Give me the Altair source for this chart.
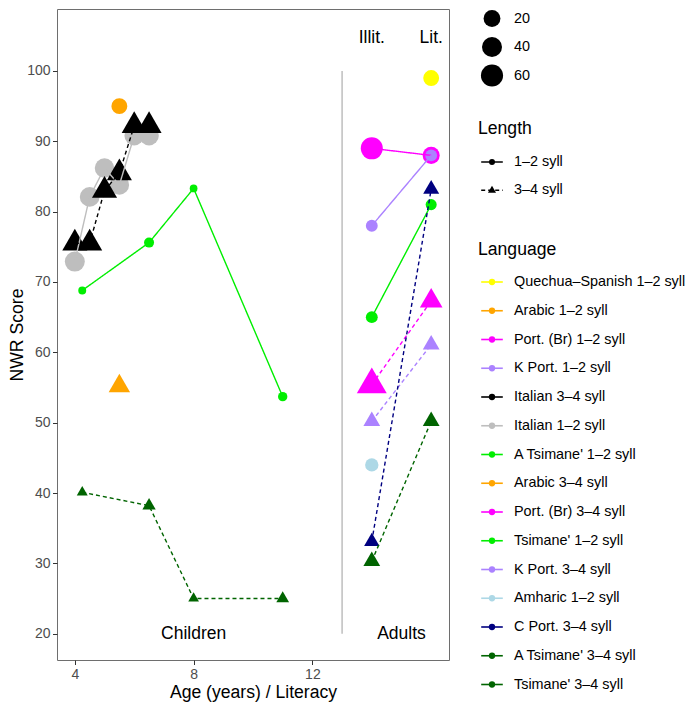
import altair as alt
import pandas as pd

# ---------------- data ----------------
languages = [
    "Quechua–Spanish 1–2 syll", "Arabic 1–2 syll", "Port. (Br) 1–2 syll", "K Port. 1–2 syll",
    "Italian 3–4 syll", "Italian 1–2 syll", "A Tsimane' 1–2 syll", "Arabic 3–4 syll",
    "Port. (Br) 3–4 syll", "Tsimane' 1–2 syll", "K Port. 3–4 syll", "Amharic 1–2 syll",
    "C Port. 3–4 syll", "A Tsimane' 3–4 syll", "Tsimane' 3–4 syll",
]
colors = [
    "#FFFF00", "#FFA500", "#FF00FF", "#AB82FF",
    "#000000", "#BEBEBE", "#00EE00", "#FFA500",
    "#FF00FF", "#00EE00", "#AB82FF", "#ADD8E6",
    "#000080", "#006400", "#006400",
]
length_levels = ["1–2 syll", "3–4 syll"]

series_names = [
    "Italian 1–2 syll", "Italian 3–4 syll", "Arabic 1–2 syll", "Arabic 3–4 syll",
    "Tsimane' 1–2 syll", "Tsimane' 3–4 syll", "Quechua–Spanish 1–2 syll",
    "Port. (Br) 1–2 syll", "K Port. 1–2 syll", "A Tsimane' 1–2 syll", "Amharic 1–2 syll",
    "Port. (Br) 3–4 syll", "K Port. 3–4 syll", "C Port. 3–4 syll", "A Tsimane' 3–4 syll",
]
series_x = [
    [4, 4.5, 5, 5.5, 6, 6.5],
    [4, 4.5, 5, 5.5, 6, 6.5],
    [5.5],
    [5.5],
    [4.25, 6.5, 8, 11],
    [4.25, 6.5, 8, 11],
    [16],
    [14, 16],
    [14, 16],
    [14, 16],
    [14],
    [14, 16],
    [14, 16],
    [14, 16],
    [14, 16],
]
series_score = [
    [72.9, 82.1, 86.2, 83.8, 90.8, 90.8],
    [75.5, 75.5, 83.0, 85.5, 92.2, 92.2],
    [95.0],
    [55.2],
    [68.8, 75.6, 83.3, 53.7],
    [40.1, 38.2, 25.0, 25.0],
    [99.0],
    [89.0, 88.0],
    [78.0, 88.0],
    [65.0, 81.0],
    [44.0],
    [55.4, 67.3],
    [50.2, 61.1],
    [33.1, 83.2],
    [30.3, 50.2],
]
series_n = [
    [40, 38, 36, 36, 36, 36],
    [30, 30, 30, 30, 30, 30],
    [16],
    [16],
    [1.0, 2.5, 0.9, 1.9],
    [1.1, 2.4, 1.0, 2.0],
    [16],
    [59, 21],
    [5, 5],
    [5, 3.7],
    [8],
    [61, 20],
    [6, 6],
    [4.2, 5],
    [6, 6],
]

annot_text = ["Illit.", "Lit.", "Children", "Adults"]
annot_x = [14, 16, 8, 15]
annot_y = [104.7, 104.7, 19.9, 19.9]

divider_x = [13]
divider_y = [20]
divider_y2 = [100]

size_breaks = [20, 40, 60]
x_ticks = [4, 8, 12]
y_ticks = [20, 30, 40, 50, 60, 70, 80, 90, 100]

# ---------------- tables ----------------
rows = []
for name, xs_, ys_, ns_ in zip(series_names, series_x, series_score, series_n):
    length = length_levels[0] if name.endswith(length_levels[0]) else length_levels[1]
    for a, b, c in zip(xs_, ys_, ns_):
        rows.append({"lang": name, "length": length, "x": a, "y": b, "n": c})
pts = pd.DataFrame(rows)

annot = pd.DataFrame({"x": annot_x, "y": annot_y, "label": annot_text})
divider = pd.DataFrame({"x": divider_x, "y": divider_y, "y2": divider_y2})

# ---------------- scales ----------------
TRI = "M0,-1.555L1.347,0.778L-1.347,0.778Z"
FONT = "Liberation Sans"
PLOT_W, PLOT_H = 392, 651
x_scale = alt.Scale(domain=[3.4, 16.6], nice=False, zero=False)
y_scale = alt.Scale(domain=[16.26, 108.81], nice=False, zero=False)
color_scale = alt.Scale(domain=languages, range=colors)
shape_scale = alt.Scale(domain=length_levels, range=["circle", TRI])
dash_scale = alt.Scale(domain=length_levels, range=[[1, 0], [4, 3]])
size_scale = alt.Scale(type="sqrt", domain=[0, 60], range=[0, 490])

x_axis = alt.Axis(values=x_ticks, title="Age (years) / Literacy", grid=False, domain=False,
                  tickSize=4.5, tickColor="#333333", tickWidth=1,
                  labelColor="#4D4D4D", labelFontSize=14, labelPadding=3, labelFont=FONT,
                  titleFontSize=17.6, titleFontWeight="normal", titleColor="black",
                  titlePadding=1.5, titleFont=FONT)
y_axis = alt.Axis(values=y_ticks, title="NWR Score", grid=False, domain=False,
                  tickSize=4.5, tickColor="#333333", tickWidth=1,
                  labelColor="#4D4D4D", labelFontSize=14, labelPadding=2.5, labelFont=FONT,
                  titleFontSize=17.6, titleFontWeight="normal", titleColor="black",
                  titlePadding=0, titleFont=FONT)

X = alt.X("x:Q", scale=x_scale, axis=x_axis)
Y = alt.Y("y:Q", scale=y_scale, axis=y_axis)

div_layer = alt.Chart(divider).mark_rule(color="#BEBEBE", strokeWidth=1.5).encode(
    x=X, y=Y, y2="y2:Q")

point_layer = alt.Chart(pts).mark_point(filled=True, opacity=1, strokeWidth=0).encode(
    x=X, y=Y,
    color=alt.Color("lang:N", scale=color_scale, legend=None),
    shape=alt.Shape("length:N", scale=shape_scale, legend=None),
    size=alt.Size("n:Q", scale=size_scale, legend=None),
)

line_layer = alt.Chart(pts).mark_line(strokeWidth=1.4).encode(
    x=X, y=Y,
    color=alt.Color("lang:N", scale=color_scale, legend=None),
    strokeDash=alt.StrokeDash("length:N", scale=dash_scale, legend=None),
    detail="lang:N",
)

text_layer = alt.Chart(annot).mark_text(fontSize=17.5, font=FONT, color="black",
                                         baseline="middle", align="center").encode(
    x=X, y=Y, text="label:N")

main = alt.layer(div_layer, point_layer, line_layer, text_layer).properties(
    width=PLOT_W, height=PLOT_H,
    view=alt.ViewBackground(stroke="#6E6E6E", strokeWidth=1),
)

# ---------------- legend panel ----------------
LEG_H = PLOT_H
size_rows_y = [9.5, 38.0, 66.5]
len_title_y, len_top, len_gap = 120.3, 153.0, 28.3
lang_title_y, lang_top, lang_gap = 241.0, 273.0, 28.75

size_df = pd.DataFrame({"n": size_breaks, "ypos": size_rows_y})
len_df = pd.DataFrame({"length": length_levels,
                       "ypos": [len_top + i * len_gap for i in range(len(length_levels))]})
lang_df = pd.DataFrame({"lang": languages,
                        "ypos": [lang_top + i * lang_gap for i in range(len(languages))]})
title_df = pd.DataFrame({"label": ["Length", "Language"], "ypos": [len_title_y, lang_title_y]})

LY = alt.Y("ypos:Q", scale=alt.Scale(domain=[0, LEG_H], reverse=True, nice=False, zero=False),
           axis=None)
SYM_X = 26
LINE_X0, LINE_X1 = 15.2, 36.8
LABEL_X = 48
TITLE_X = 12
LABEL_FS = 14.4

leg_size_pts = alt.Chart(size_df).mark_point(filled=True, opacity=1, shape="circle",
                                              color="black", strokeWidth=0).encode(
    x=alt.value(SYM_X), y=LY, size=alt.Size("n:Q", scale=size_scale, legend=None))
leg_size_txt = alt.Chart(size_df).mark_text(align="left", baseline="middle", fontSize=LABEL_FS,
                                             font=FONT, color="black").encode(
    x=alt.value(LABEL_X), y=LY, text="n:Q")

leg_len_line = alt.Chart(len_df).mark_rule(color="black", strokeWidth=1.4).encode(
    x=alt.value(LINE_X0), x2=alt.value(LINE_X1), y=LY,
    strokeDash=alt.StrokeDash("length:N", scale=dash_scale, legend=None))
leg_len_pts = alt.Chart(len_df).mark_point(filled=True, opacity=1, color="black",
                                            strokeWidth=0, size=36).encode(
    x=alt.value(SYM_X), y=LY,
    shape=alt.Shape("length:N", scale=shape_scale, legend=None))
leg_len_txt = alt.Chart(len_df).mark_text(align="left", baseline="middle", fontSize=LABEL_FS,
                                           font=FONT, color="black").encode(
    x=alt.value(LABEL_X), y=LY, text="length:N")

leg_lang_line = alt.Chart(lang_df).mark_rule(strokeWidth=1.6).encode(
    x=alt.value(LINE_X0), x2=alt.value(LINE_X1), y=LY,
    color=alt.Color("lang:N", scale=color_scale, legend=None))
leg_lang_pts = alt.Chart(lang_df).mark_point(filled=True, opacity=1, shape="circle",
                                              strokeWidth=0, size=40).encode(
    x=alt.value(SYM_X), y=LY,
    color=alt.Color("lang:N", scale=color_scale, legend=None))
leg_lang_txt = alt.Chart(lang_df).mark_text(align="left", baseline="middle", fontSize=LABEL_FS,
                                             font=FONT, color="black").encode(
    x=alt.value(LABEL_X), y=LY, text="lang:N")

leg_titles = alt.Chart(title_df).mark_text(align="left", baseline="middle", fontSize=17.6,
                                            font=FONT, color="black").encode(
    x=alt.value(TITLE_X), y=LY, text="label:N")

legend_panel = alt.layer(
    leg_size_pts, leg_size_txt, leg_len_line, leg_len_pts, leg_len_txt,
    leg_lang_line, leg_lang_pts, leg_lang_txt, leg_titles,
).properties(width=190, height=LEG_H, view=alt.ViewBackground(stroke=None))

chart = alt.hconcat(main, legend_panel, spacing=16).properties(
    padding={"left": 0, "top": 0, "right": 0, "bottom": 0}
).resolve_scale(color="independent", size="independent", shape="independent",
                strokeDash="independent", x="independent", y="independent"
).configure(font=FONT).configure_view(stroke=None)

chart.save("out.html", embed_options={"renderer": "svg", "actions": False})
